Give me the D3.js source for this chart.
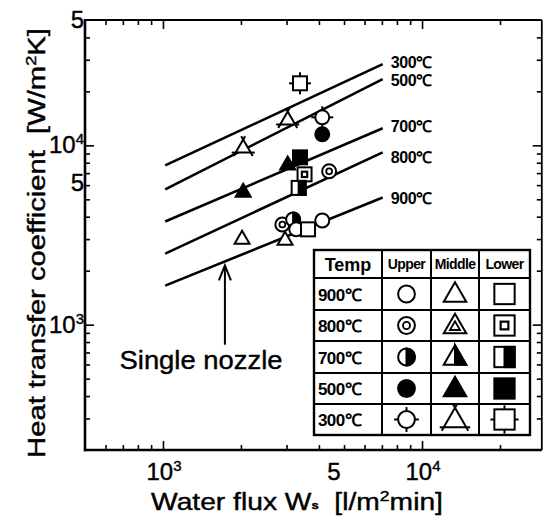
<!DOCTYPE html>
<html><head><meta charset="utf-8">
<script src="https://cdn.jsdelivr.net/npm/d3@7"></script>
<style>body{margin:0;background:#fff}svg{display:block}</style>
</head><body>
<svg id="c" width="544" height="516"></svg>
<script>
// ---------- data ----------
const xDomain = [500, 29000];
const yDomain = [200, 50000];
const majorTicks = [1000, 10000];
const xTickLabels = [{v:1000, base:"10", sup:"3"}, {v:5000, base:"5", sup:""}, {v:10000, base:"10", sup:"4"}];
const yTickLabels = [{v:50000, base:"5", sup:""}, {v:10000, base:"10", sup:"4"}, {v:5000, base:"5", sup:""}, {v:1000, base:"10", sup:"3"}];

const lineTemps = ["300℃", "500℃", "700℃", "800℃", "900℃"];
const lineStartW = [1020, 1020, 1020, 1020, 1020];
const lineEndW   = [7050, 7050, 7050, 7050, 7050];
const lineStartH = [7730, 5680, 3760, 2490, 1650];
const lineEndH   = [28350, 23380, 12450, 9140, 5120];

const tableTemps = ["900℃", "800℃", "700℃", "500℃", "300℃"];
const tablePositions = ["Upper", "Middle", "Lower"];

// measured points: temperature, nozzle position, water flux W, heat transfer coefficient h
const points = [
  {temp:"800℃", pos:"Upper",  W:2890, h:3620},
  {temp:"700℃", pos:"Upper",  W:3180, h:3860},
  {temp:"900℃", pos:"Upper",  W:3270, h:3400},
  {temp:"900℃", pos:"Upper",  W:4120, h:3810},
  {temp:"900℃", pos:"Middle", W:2020, h:3020},
  {temp:"900℃", pos:"Middle", W:2960, h:2985},
  {temp:"900℃", pos:"Lower",  W:3630, h:3400},
  {temp:"800℃", pos:"Upper",  W:4380, h:7160},
  {temp:"800℃", pos:"Lower",  W:3520, h:6890},
  {temp:"700℃", pos:"Lower",  W:3340, h:5790},
  {temp:"500℃", pos:"Upper",  W:4120, h:11520},
  {temp:"500℃", pos:"Lower",  W:3380, h:8570},
  {temp:"500℃", pos:"Middle", W:2040, h:5530},
  {temp:"500℃", pos:"Middle", W:3030, h:7830},
  {temp:"300℃", pos:"Upper",  W:4120, h:14330},
  {temp:"300℃", pos:"Middle", W:2040, h:9740},
  {temp:"300℃", pos:"Middle", W:3030, h:13970},
  {temp:"300℃", pos:"Lower",  W:3380, h:22180}
];
const annotationText = "Single nozzle";
const arrowW = 1734, arrowH0 = 773, arrowH1 = 2140;

// ---------- layout ----------
const X0 = 85, X1 = 541.8, Y0 = 450, Y1 = 20;
const labelDy = [-2, 1, -2, 5, 1];
const svg = d3.select("#c");
const FONT = "'Liberation Sans', Arial, Helvetica, sans-serif";
const x = d3.scaleLog().domain(xDomain).range([X0, X1]);
const y = d3.scaleLog().domain(yDomain).range([Y0, Y1]);

function minorTicks(dom){
  const out = [];
  for (let e = Math.floor(Math.log10(dom[0])); e <= Math.ceil(Math.log10(dom[1])); e++)
    for (let m = 2; m < 10; m++){
      const v = m * Math.pow(10, e);
      if (v > dom[0]*1.001 && v < dom[1]*0.999) out.push(v);
    }
  return out;
}
const xMinor = minorTicks(xDomain), yMinor = minorTicks(yDomain);

function styleAxis(g){ g.select(".domain").remove(); g.selectAll("line").attr("stroke","#000").attr("stroke-width",1.6); }
const axes = [
  [d3.axisBottom(x), `translate(0,${Y0})`, xMinor, 5], [d3.axisBottom(x), `translate(0,${Y0})`, majorTicks, 9],
  [d3.axisTop(x), `translate(0,${Y1})`, xMinor, 5], [d3.axisTop(x), `translate(0,${Y1})`, majorTicks, 9],
  [d3.axisLeft(y), `translate(${X0},0)`, yMinor, 5], [d3.axisLeft(y), `translate(${X0},0)`, majorTicks, 9],
  [d3.axisRight(y), `translate(${X1},0)`, yMinor, 5], [d3.axisRight(y), `translate(${X1},0)`, majorTicks, 9]
];
axes.forEach(([ax, tr, vals, len]) => {
  svg.append("g").attr("transform", tr)
     .call(ax.tickValues(vals).tickSize(-len).tickFormat(""))
     .call(styleAxis);
});
// frame
svg.append("line").attr("x1",X0).attr("x2",X0).attr("y1",Y1-1).attr("y2",Y0+1.2).attr("stroke","#000").attr("stroke-width",2.6);
svg.append("line").attr("x1",X0-1).attr("x2",X1).attr("y1",Y0).attr("y2",Y0).attr("stroke","#000").attr("stroke-width",2.6);
svg.append("line").attr("x1",X0).attr("x2",X1).attr("y1",Y1).attr("y2",Y1).attr("stroke","#000").attr("stroke-width",1.8);
svg.append("line").attr("x1",X1).attr("x2",X1).attr("y1",Y1).attr("y2",Y0).attr("stroke","#000").attr("stroke-width",1.8);

// heavier print look for regular text
function ink(t, w){ return t.attr("stroke","#000").attr("stroke-width", w).attr("fill","#000"); }

// tick labels
function supLabel(t, d){
  t.append("tspan").text(d.base);
  if (d.sup) t.append("tspan").attr("font-size","15px").attr("dy","-9").text(d.sup);
}
xTickLabels.forEach(d => {
  const t = svg.append("text").attr("x", x(d.v) + (d.sup ? 1 : -10)).attr("y", 480)
    .attr("text-anchor","middle").attr("font-family",FONT).attr("font-size","24px");
  ink(t, 0.4); supLabel(t, d);
});
yTickLabels.forEach(d => {
  const t = svg.append("text").attr("x", 84).attr("y", y(d.v) + 8 + (d.sup || d.v > 20000 ? 0 : -16))
    .attr("text-anchor","end").attr("font-family",FONT).attr("font-size","24px");
  ink(t, 0.4); supLabel(t, d);
});

// stretch text horizontally (in its own direction) to reach a given width
function fitText(t, width, tx, ty, rot){
  const w = t.node().getBBox().width;
  t.attr("transform", `translate(${tx},${ty}) rotate(${rot}) scale(${width / w},1)`);
}

// axis titles
const xt = svg.append("text").attr("x", 0).attr("y", 0).attr("text-anchor","middle")
  .attr("font-family",FONT).attr("font-size","24px");
ink(xt, 0.4);
xt.append("tspan").text("Water flux W");
xt.append("tspan").attr("font-size","11px").attr("font-weight","bold").attr("dy","-1").text("s");
xt.append("tspan").attr("dy","1").text("\u00a0\u00a0[l/m");
xt.append("tspan").attr("font-size","15px").attr("dy","-9").text("2");
xt.append("tspan").attr("dy","9").text("min]");
fitText(xt, 292, 297, 510, 0);

const yt = svg.append("text").attr("x", 0).attr("y", 0).attr("text-anchor","middle")
  .attr("font-family",FONT).attr("font-size","24px");
ink(yt, 0.4);
yt.append("tspan").text("Heat transfer coefficient\u00a0\u00a0[W/m");
yt.append("tspan").attr("font-size","15px").attr("dy","-9").text("2");
yt.append("tspan").attr("dy","9").text("K]");
fitText(yt, 430, 45, 243, -90);

// correlation lines
lineTemps.forEach((t, i) => {
  svg.append("line")
    .attr("x1", x(lineStartW[i])).attr("y1", y(lineStartH[i]))
    .attr("x2", x(lineEndW[i])).attr("y2", y(lineEndH[i]))
    .attr("stroke","#000").attr("stroke-width",2.6);
  svg.append("text").attr("x", x(lineEndW[i]) + 8).attr("y", y(lineEndH[i]) + 6 + labelDy[i])
    .attr("font-family",FONT).attr("font-size","16px").attr("font-weight","bold")
    .attr("letter-spacing","-0.4").text(t);
});

// markers
function drawMarker(g, cx, cy, pos, temp, k){
  const sw = 2.0;
  const G = g.append("g").attr("stroke","#000").attr("stroke-width",sw).attr("fill","#fff");
  const filled = temp === "500℃";
  if (pos === "Upper"){
    const r = 7*k;
    G.append("circle").attr("cx",cx).attr("cy",cy).attr("r",r).attr("fill", filled ? "#000" : "#fff");
    if (temp === "800℃") G.append("circle").attr("cx",cx).attr("cy",cy).attr("r",r*0.42).attr("stroke-width",sw*0.9);
    if (temp === "700℃") G.append("path").attr("d",`M${cx},${cy-r}A${r},${r} 0 0 1 ${cx},${cy+r}Z`).attr("fill","#000");
    if (temp === "300℃") [[1,0],[-1,0],[0,1],[0,-1]].forEach(([dx,dy]) =>
      G.append("line").attr("x1",cx+dx*r).attr("y1",cy+dy*r).attr("x2",cx+dx*(r+4)).attr("y2",cy+dy*(r+4)));
  } else if (pos === "Middle"){
    const w = 7.5*k, h = 13*k;
    const P = [[cx, cy-h*0.6],[cx+w, cy+h*0.4],[cx-w, cy+h*0.4]];
    G.append("path").attr("d","M"+P.map(p=>p.join(",")).join("L")+"Z").attr("fill", filled ? "#000" : "#fff").attr("stroke-linejoin","miter");
    if (temp === "800℃"){
      const Q = P.map(p => [cx+(p[0]-cx)*0.45, cy+(p[1]-cy)*0.45 + h*0.05]);
      G.append("path").attr("d","M"+Q.map(p=>p.join(",")).join("L")+"Z").attr("stroke-width",sw*0.9);
    }
    if (temp === "700℃") G.append("path").attr("d",`M${P[0]}L${P[1]}L${cx},${P[1][1]}Z`).attr("fill","#000");
    if (temp === "300℃"){
      P.forEach((v, i) => [P[(i+1)%3], P[(i+2)%3]].forEach(a => {
        const dx = v[0]-a[0], dy = v[1]-a[1], L = Math.hypot(dx,dy);
        G.append("line").attr("x1",v[0]).attr("y1",v[1]).attr("x2",v[0]+dx/L*4).attr("y2",v[1]+dy/L*4);
      }));
    }
  } else {
    const a = 7*k;
    G.append("rect").attr("x",cx-a).attr("y",cy-a).attr("width",2*a).attr("height",2*a).attr("fill", filled ? "#000" : "#fff");
    if (temp === "800℃") G.append("rect").attr("x",cx-a*0.38).attr("y",cy-a*0.38).attr("width",a*0.76).attr("height",a*0.76).attr("stroke-width",sw*1.1);
    if (temp === "700℃") G.append("rect").attr("x",cx).attr("y",cy-a).attr("width",a).attr("height",2*a).attr("fill","#000");
    if (temp === "300℃") [[1,0],[-1,0],[0,1],[0,-1]].forEach(([dx,dy]) =>
      G.append("line").attr("x1",cx+dx*a).attr("y1",cy+dy*a).attr("x2",cx+dx*(a+4)).attr("y2",cy+dy*(a+4)));
  }
}
const gp = svg.append("g");
points.forEach(p => drawMarker(gp, x(p.W), y(p.h), p.pos, p.temp, 1));

// annotation arrow
const ax0 = x(arrowW), ay0 = y(arrowH0), ay1 = y(arrowH1);
svg.append("line").attr("x1",ax0).attr("x2",ax0).attr("y1",ay0).attr("y2",ay1+1).attr("stroke","#000").attr("stroke-width",2);
svg.append("path").attr("d",`M${ax0-6},${ay1+15}L${ax0},${ay1}L${ax0+6},${ay1+15}`).attr("fill","none").attr("stroke","#000").attr("stroke-width",2);
const sn = svg.append("text").attr("x",0).attr("y",0).attr("text-anchor","middle").attr("font-family",FONT).attr("font-size","25px").text(annotationText);
ink(sn, 0.4);
fitText(sn, 163, 201, 369, 0);

// legend table
const colX = [314, 382, 431, 479, 530];
const rowY = [250, 278, 310, 341, 373, 404, 435];
const legK = {Upper: 1.2, Middle: 1.5, Lower: 1.45};
const tg = svg.append("g");
tg.append("rect").attr("x",colX[0]).attr("y",rowY[0]).attr("width",colX[4]-colX[0]).attr("height",rowY[6]-rowY[0])
  .attr("fill","#fff").attr("stroke","#000").attr("stroke-width",2.4);
colX.slice(1,4).forEach(cx => tg.append("line").attr("x1",cx).attr("x2",cx).attr("y1",rowY[0]).attr("y2",rowY[6]).attr("stroke","#000").attr("stroke-width",2));
rowY.slice(1,6).forEach(ry => tg.append("line").attr("x1",colX[0]).attr("x2",colX[4]).attr("y1",ry).attr("y2",ry).attr("stroke","#000").attr("stroke-width",2));
tg.append("text").attr("x",(colX[0]+colX[1])/2).attr("y",(rowY[0]+rowY[1])/2+6.5).attr("text-anchor","middle")
  .attr("font-family",FONT).attr("font-size","18px").attr("font-weight","bold").text("Temp");
tablePositions.forEach((p, j) => {
  tg.append("text").attr("x",(colX[j+1]+colX[j+2])/2).attr("y",(rowY[0]+rowY[1])/2+5).attr("text-anchor","middle")
    .attr("font-family",FONT).attr("font-size","14px").attr("font-weight","bold").attr("letter-spacing","-0.6").text(p);
});
tableTemps.forEach((t, i) => {
  const cy = (rowY[i+1]+rowY[i+2])/2;
  tg.append("text").attr("x",colX[0]+4).attr("y",cy+6.5).attr("font-family",FONT).attr("font-size","17px")
    .attr("font-weight","bold").attr("letter-spacing","-0.6").text(t);
  tablePositions.forEach((p, j) => drawMarker(tg, (colX[j+1]+colX[j+2])/2, cy, p, t, legK[p]));
});
</script>
</body></html>
